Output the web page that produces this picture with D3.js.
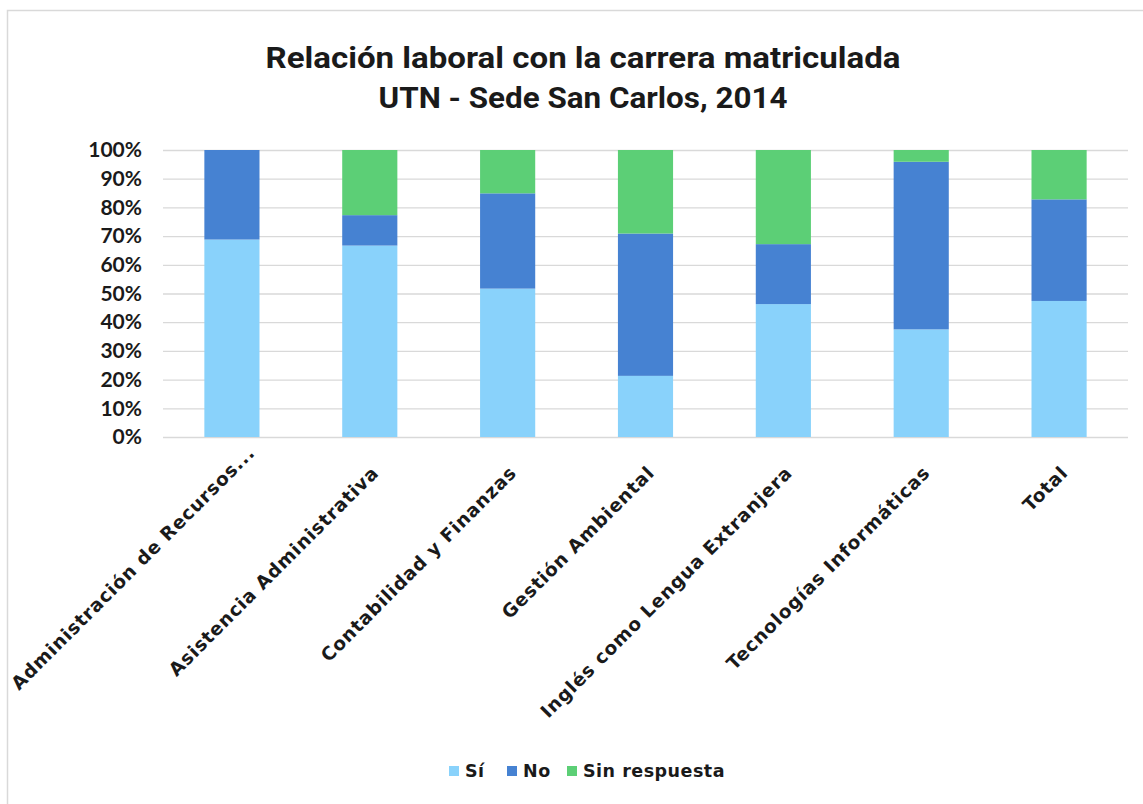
<!DOCTYPE html>
<html>
<head>
<meta charset="utf-8">
<script src="https://cdn.jsdelivr.net/npm/d3@7"></script>
<style>
  html, body { margin: 0; padding: 0; background: #fff; }
  svg { display: block; }
</style>
</head>
<body>
<svg id="chart" width="1143" height="804"></svg>
<script>
const categories = [
  "Administración de Recursos...",
  "Asistencia Administrativa",
  "Contabilidad y Finanzas",
  "Gestión Ambiental",
  "Inglés como Lengua Extranjera",
  "Tecnologías Informáticas",
  "Total"
];
const seriesNames = ["Sí", "No", "Sin respuesta"];
const si = [68.8, 66.7, 51.7, 21.3, 46.3, 37.5, 47.4];
const no = [31.2, 10.6, 33.2, 49.6, 20.9, 58.4, 35.4];
const sinRespuesta = [0, 22.7, 15.1, 29.1, 32.8, 4.1, 17.2];
const yTicks = [0, 10, 20, 30, 40, 50, 60, 70, 80, 90, 100];
const titleLines = ["Relación laboral con la carrera matriculada", "UTN - Sede San Carlos, 2014"];
const colors = ["#89d2fb", "#4682d2", "#5ccf76"];

const svg = d3.select("#chart");
const W = 1143, H = 804;
const margin = { left: 163, right: 15, top: 150, bottom: 367 };
const plotW = W - margin.left - margin.right;
const plotH = H - margin.top - margin.bottom;

// frame
svg.append("rect").attr("x", 7.5).attr("y", 10.5).attr("width", W + 10).attr("height", H + 10)
  .attr("fill", "#fff").attr("stroke", "#d9d9d9").attr("stroke-width", 1.5);

const labelFont = "'DejaVu Sans', Verdana, sans-serif";
const tickFont = "Lato, 'Open Sans', sans-serif";

// title
const titleSpecs = [{ y: 68, len: 635 }, { y: 108, len: 409 }];
titleLines.forEach((t, i) => {
  svg.append("text")
    .attr("x", 583).attr("y", titleSpecs[i].y)
    .attr("text-anchor", "middle")
    .attr("font-family", "'Liberation Sans Narrow', 'Arial Narrow', Roboto, sans-serif")
    .attr("font-weight", "bold")
    .attr("font-size", 30)
    .attr("fill", "#1a1a1a")
    .attr("textLength", titleSpecs[i].len)
    .attr("lengthAdjust", "spacingAndGlyphs")
    .text(t);
});

const g = svg.append("g").attr("transform", `translate(${margin.left},${margin.top})`);

const x = d3.scaleBand().domain(categories).range([0, plotW]).paddingInner(0.6).paddingOuter(0.3);
const y = d3.scaleLinear().domain([0, 100]).range([plotH, 0]);

// gridlines + y labels
const yAxis = d3.axisLeft(y).tickValues(yTicks).tickSize(-plotW).tickFormat(d => d + "%");
const yg = g.append("g").call(yAxis);
yg.select(".domain").remove();
yg.selectAll(".tick line").attr("stroke", "#d9d9d9").attr("stroke-width", 1.3);
yg.selectAll(".tick text")
  .attr("x", -21)
  .attr("font-family", tickFont)
  .attr("font-weight", "bold")
  .attr("font-size", 21)
  .attr("fill", "#1a1a1a");

// stacked bars
const rows = categories.map((c, i) => ({ cat: c, "Sí": si[i], "No": no[i], "Sin respuesta": sinRespuesta[i] }));
const stacked = d3.stack().keys(seriesNames)(rows);

g.selectAll("g.series").data(stacked).join("g")
  .attr("class", "series")
  .attr("fill", (d, i) => colors[i])
  .selectAll("rect").data(d => d).join("rect")
  .attr("x", d => x(d.data.cat))
  .attr("width", x.bandwidth())
  .attr("y", d => y(d[1]))
  .attr("height", d => Math.max(0, y(d[0]) - y(d[1])));

// x axis labels
const xg = g.append("g").attr("transform", `translate(0,${plotH})`).call(d3.axisBottom(x).tickSize(0));
xg.select(".domain").remove();
xg.selectAll(".tick text")
  .attr("font-family", labelFont)
  .attr("font-weight", "bold")
  .attr("font-size", 18.5)
  .attr("letter-spacing", 0.8)
  .attr("fill", "#1a1a1a")
  .attr("text-anchor", "end")
  .attr("dy", 0)
  .attr("y", 0)
  .attr("transform", (d, i) => i === 0 ? "translate(24,17) rotate(-45)" : "translate(10,37) rotate(-45)");

// legend
const legend = svg.append("g").attr("transform", "translate(0,771)");
const legendX = [449, 507, 567];
seriesNames.forEach((s, i) => {
  legend.append("rect").attr("x", legendX[i]).attr("y", -5).attr("width", 10).attr("height", 10).attr("fill", colors[i]);
  legend.append("text").attr("x", legendX[i] + 16).attr("y", 0).attr("dy", "0.36em")
    .attr("font-family", labelFont).attr("font-weight", "bold").attr("font-size", 17.5)
    .attr("letter-spacing", 0.5)
    .attr("fill", "#1a1a1a").text(s);
});
</script>
</body>
</html>
